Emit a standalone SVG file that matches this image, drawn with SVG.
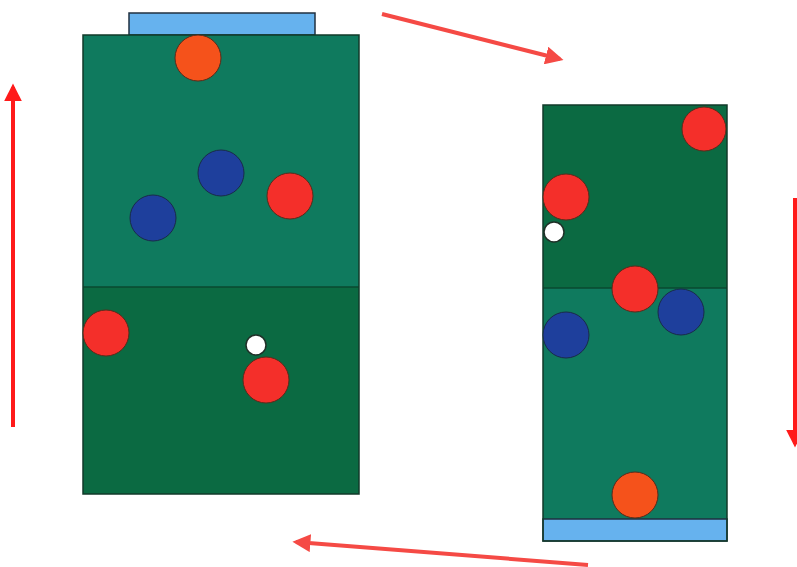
<svg xmlns="http://www.w3.org/2000/svg" width="797" height="567" viewBox="0 0 797 567">
<defs>
<style>
.light{fill:#0f7a5e}
.dark{fill:#0b6a42}
.edge{fill:none;stroke:#123a2a;stroke-width:1.5}
.goal{fill:#66b2ee;stroke:#203040;stroke-width:1.5}
.red{fill:#f42f2a;stroke:#5a2a1a;stroke-width:1}
.orange{fill:#f5521b;stroke:#5a2a1a;stroke-width:1}
.blue{fill:#1e3f9c;stroke:#1a2a4a;stroke-width:1}
.ball{fill:#ffffff;stroke:#203028;stroke-width:1.5}
.arr{stroke-width:4;fill:none}
</style>
<marker id="ah1" viewBox="0 0 10 10" refX="8" refY="5" markerWidth="4.5" markerHeight="4.5" orient="auto" markerUnits="strokeWidth"><path d="M0,0 L10,5 L0,10 z" fill="#ff1a1a"/></marker>
<marker id="ah2" viewBox="0 0 10 10" refX="8" refY="5" markerWidth="4.5" markerHeight="4.5" orient="auto" markerUnits="strokeWidth"><path d="M0,0 L10,5 L0,10 z" fill="#f54a45"/></marker>
</defs>
<rect width="797" height="567" fill="#ffffff"/>
<g id="left-pitch">
<rect x="129" y="13" width="186" height="22" class="goal"/>
<rect x="83" y="35" width="276" height="252" class="light"/>
<rect x="83" y="287" width="276" height="207" class="dark"/>
<line x1="83" y1="287" x2="359" y2="287" stroke="#0a4a30" stroke-width="1.5"/>
<rect x="83" y="35" width="276" height="459" class="edge"/>
<circle cx="198" cy="58" r="23" class="orange"/>
<circle cx="221" cy="173" r="23" class="blue"/>
<circle cx="153" cy="218" r="23" class="blue"/>
<circle cx="290" cy="196" r="23" class="red"/>
<circle cx="106" cy="333" r="23" class="red"/>
<circle cx="256" cy="345" r="10" class="ball"/>
<circle cx="266" cy="380" r="23" class="red"/>
</g>
<g id="right-pitch">
<rect x="543" y="105" width="184" height="183" class="dark"/>
<rect x="543" y="288" width="184" height="231" class="light"/>
<line x1="543" y1="288" x2="727" y2="288" stroke="#0a4a30" stroke-width="1.5"/>
<rect x="543" y="519" width="184" height="22" class="goal"/>
<rect x="543" y="105" width="184" height="436" class="edge"/>
<circle cx="704" cy="129" r="22" class="red"/>
<circle cx="566" cy="197" r="23" class="red"/>
<circle cx="554" cy="232" r="10" class="ball"/>
<circle cx="681" cy="312" r="23" class="blue"/>
<circle cx="566" cy="335" r="23" class="blue"/>
<circle cx="635" cy="289" r="23" class="red"/>
<circle cx="635" cy="495" r="23" class="orange"/>
</g>
<g id="connectors">
<line x1="13" y1="427" x2="13" y2="87" class="arr" stroke="#ff1a1a" marker-end="url(#ah1)"/>
<line x1="382" y1="14" x2="560" y2="59" class="arr" stroke="#f54a45" marker-end="url(#ah2)"/>
<line x1="795" y1="198" x2="795" y2="444" class="arr" stroke="#ff1a1a" marker-end="url(#ah1)"/>
<line x1="588" y1="565" x2="296" y2="542" class="arr" stroke="#f54a45" marker-end="url(#ah2)"/>
</g>
</svg>
